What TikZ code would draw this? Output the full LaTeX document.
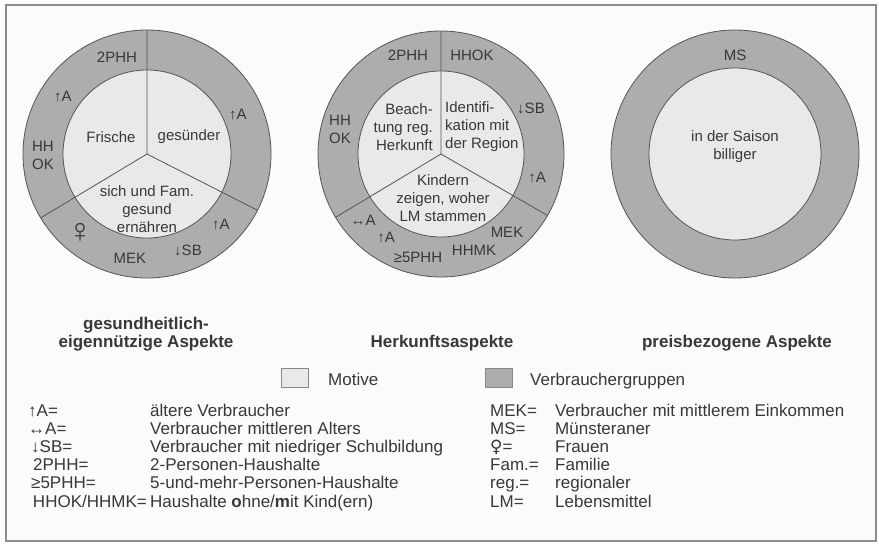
\documentclass[tikz,border=0pt]{standalone}
\usepackage{fontspec}
\setmainfont{Liberation Sans}
\newfontfamily\symfont{DejaVu Sans}
\definecolor{ringc}{HTML}{ADADAD}
\definecolor{innerc}{HTML}{E9E9E9}
\definecolor{bgc}{HTML}{FBFBFB}
\definecolor{ink}{HTML}{383838}
\definecolor{edge}{HTML}{555555}
\definecolor{framec}{HTML}{8C8C8C}
\begin{document}
\begin{tikzpicture}[x=1pt,y=-1pt,
  lab/.style={text=ink, font=\fontsize{15}{18}\selectfont, inner sep=0pt, align=center},
  labr/.style={lab, align=right, anchor=east},
  labl/.style={lab, align=left, anchor=west},
  ttl/.style={text=ink, font=\fontsize{17}{18}\selectfont\bfseries, inner sep=0pt, align=center},
  leg/.style={text=ink, font=\fontsize{17}{19}\selectfont, inner sep=0pt, anchor=base west},
  outline/.style={draw=edge, line width=0.8},
  swatch/.style={draw=edge!70, line width=0.8}
]
\useasboundingbox (0,0) rectangle (879,544);
\fill[white] (0,0) rectangle (879,544);
\draw[framec, line width=1.5, fill=bgc] (6,5) rectangle (876,541);

% ---- circle 1
\coordinate (c1) at (147,154);
\fill[ringc] (c1) circle[radius=124];
\fill[innerc] (c1) circle[radius=84];
\draw[outline] (c1) circle[radius=124] (c1) circle[radius=84];
\draw[outline] (c1) -- +(-90:124) (c1) -- +(27:124) (c1) -- +(149:124);
\node[lab] (a1) at (117,57) {2PHH};
\node[lab] (a2) at (63,97) {↑A};
\node[lab] (a3) at (43,155) {HH\\OK};
\node[lab] (a4) at (238,115) {↑A};
\node[lab] (a5) at (111,137) {Frische};
\node[lab] (a6) at (189,137) {gesünder};
\node[lab] (a7) at (147,209) {sich und Fam.\\gesund\\ernähren};
\node[lab] (a8) at (221,225) {↑A};
\node[lab, font=\fontsize{34}{34}\selectfont] (a9) at (80,233) {♀};
\node[lab] (a10) at (130,258) {MEK};
\node[lab] (a11) at (188,250) {↓SB};

% ---- circle 2
\coordinate (c2) at (441,154);
\fill[ringc] (c2) circle[radius=123];
\fill[innerc] (c2) circle[radius=83];
\draw[outline] (c2) circle[radius=123] (c2) circle[radius=83];
\draw[outline] (c2) -- +(-90:123) (c2) -- +(30:123) (c2) -- +(149:123);
\node[lab] (b1) at (408,55) {2PHH};
\node[lab] (b2) at (472,55) {HHOK};
\node[lab] (b3) at (340,129) {HH\\OK};
\node[lab] (b4) at (531,108) {↓SB};
\node[labr] (b5) at (433,127) {Beach-\\tung reg.\\Herkunft};
\node[labl] (b6) at (445,127) {Identifi-\\kation mit\\der Region};
\node[lab] (b7) at (537,178) {↑A};
\node[lab] (b8) at (443,198) {Kindern\\zeigen, woher\\LM stammen};
\node[lab] (b9) at (363,220) {↔A};
\node[lab] (b10) at (386,238) {↑A};
\node[lab] (b11) at (418,257) {≥5PHH};
\node[lab] (b12) at (474,250) {HHMK};
\node[lab] (b13) at (507,232) {MEK};

% ---- circle 3
\coordinate (c3) at (735,154);
\fill[ringc] (c3) circle[radius=124];
\fill[innerc] (c3) circle[radius=86];
\draw[outline] (c3) circle[radius=124] (c3) circle[radius=86];
\node[lab] (m1) at (735,55) {MS};
\node[lab] (m2) at (735,147) {in der Saison\\billiger};

% ---- titles
\node[ttl] (t1) at (146,334) {gesundheitlich-\\eigennützige Aspekte};
\node[ttl] (t2) at (442,343) {Herkunftsaspekte};
\node[ttl] (t3) at (737,343) {preisbezogene Aspekte};

% ---- legend swatches
\draw[swatch, fill=innerc] (281,368) rectangle (308,387);
\node[leg] (s1) at (328,385) {Motive};
\draw[swatch, fill=ringc] (485,368) rectangle (512,387);
\node[leg] (s2) at (530,385) {Verbrauchergruppen};

% ---- legend, left column
\node[leg] (k1) at (28,416) {↑A=};
\node[leg] (k2) at (28,434.2) {↔A=};
\node[leg] (k3) at (31,452.4) {↓SB=};
\node[leg] (k4) at (33,470.6) {2PHH=};
\node[leg] (k5) at (31,488.8) {≥5PHH=};
\node[leg, anchor=base east] (k6) at (147,507) {HHOK/HHMK=};
\node[leg] (d1) at (150,416) {ältere Verbraucher};
\node[leg] (d2) at (150,434.2) {Verbraucher mittleren Alters};
\node[leg] (d3) at (150,452.4) {Verbraucher mit niedriger Schulbildung};
\node[leg] (d4) at (150,470.6) {2-Personen-Haushalte};
\node[leg] (d5) at (150,488.8) {5-und-mehr-Personen-Haushalte};
\node[leg] (d6) at (150,507) {Haushalte \textbf{o}hne/\textbf{m}it Kind(ern)};

% ---- legend, right column
\node[leg] (r1) at (490,416) {MEK=};
\node[leg] (r2) at (490,434.2) {MS=};
\node[leg] (r3) at (490,452.4) {{\symfont ♀}=};
\node[leg] (r4) at (490,470.6) {Fam.=};
\node[leg] (r5) at (490,488.8) {reg.=};
\node[leg] (r6) at (490,507) {LM=};
\node[leg] (e1) at (555,416) {Verbraucher mit mittlerem Einkommen};
\node[leg] (e2) at (555,434.2) {Münsteraner};
\node[leg] (e3) at (555,452.4) {Frauen};
\node[leg] (e4) at (555,470.6) {Familie};
\node[leg] (e5) at (555,488.8) {regionaler};
\node[leg] (e6) at (555,507) {Lebensmittel};
\end{tikzpicture}
\end{document}
